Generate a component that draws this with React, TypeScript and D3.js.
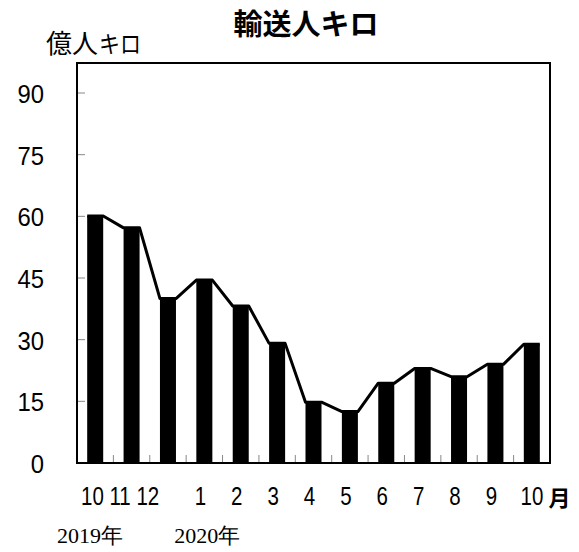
import { useEffect, useRef } from 'react';
import * as d3 from 'd3';

// months shown on the x axis, October 2019 .. October 2020
const months = ['10', '11', '12', '1', '2', '3', '4', '5', '6', '7', '8', '9', '10'];
// passenger-kilometres, 100 million (億人キロ)
const values = [60.1, 57.2, 40.0, 44.5, 38.2, 29.1, 14.8, 12.5, 19.4, 23.0, 21.0, 24.0, 28.9];
const yTicks = [0, 15, 30, 45, 60, 75, 90];
const yearLabels = ['2019年', '2020年'];

const W = 579;
const H = 552;
const margin = { top: 63, right: 29, bottom: 89, left: 77 };
const innerW = W - margin.left - margin.right;
const innerH = H - margin.top - margin.bottom;

const numFont = '"Liberation Sans", Arial, sans-serif';
const jpFont = '"Noto Sans CJK JP", sans-serif';

const App = () => {
    const svgRef = useRef<SVGSVGElement>(null);

    useEffect(() => {
        const root = d3.select(svgRef.current);
        root.selectAll('*').remove();

        const x = d3
            .scaleBand<number>()
            .domain(d3.range(months.length))
            .range([0, innerW])
            .paddingInner(0)
            .paddingOuter(0);
        const y = d3.scaleLinear().domain([0, 97.3]).range([innerH, 0]);

        const barW = x.bandwidth() * 0.44;
        const barOff = (x.bandwidth() - barW) / 2;

        // titles
        root.append('text')
            .attr('x', 306)
            .attr('y', 35)
            .attr('text-anchor', 'middle')
            .style('font-family', jpFont)
            .style('font-weight', 'bold')
            .style('font-size', '29px')
            .text('輸送人キロ');

        root.append('text')
            .attr('x', 46)
            .attr('y', 53)
            .style('font-family', jpFont)
            .style('font-size', '26px')
            .text('億人');
        root.append('text')
            .attr('x', 99)
            .attr('y', 53)
            .attr('textLength', 42)
            .attr('lengthAdjust', 'spacingAndGlyphs')
            .style('font-family', jpFont)
            .style('font-size', '24px')
            .text('キロ');

        const g = root
            .append('g')
            .attr('transform', `translate(${margin.left},${margin.top})`);

        // bars
        g.selectAll('rect.bar')
            .data(values)
            .join('rect')
            .attr('class', 'bar')
            .attr('x', (_, i) => (x(i) ?? 0) + barOff)
            .attr('y', d => y(d))
            .attr('width', barW)
            .attr('height', d => innerH - y(d))
            .attr('fill', '#000');

        // line tracing the bar tops
        const pts: [number, number][] = values.flatMap((v, i) => {
            const x0 = (x(i) ?? 0) + barOff;
            return [
                [x0, y(v)],
                [x0 + barW, y(v)],
            ] as [number, number][];
        });
        g.append('path')
            .attr('d', d3.line()(pts))
            .attr('fill', 'none')
            .attr('stroke', '#000')
            .attr('stroke-width', 3)
            .attr('stroke-linejoin', 'round');

        // y ticks (inside)
        g.selectAll('line.yt')
            .data(yTicks.filter(t => t > 0))
            .join('line')
            .attr('class', 'yt')
            .attr('x1', 0)
            .attr('x2', 8)
            .attr('y1', d => y(d))
            .attr('y2', d => y(d))
            .attr('stroke', '#888')
            .attr('stroke-width', 1);

        // x ticks at band boundaries
        g.selectAll('line.xt')
            .data(d3.range(1, months.length))
            .join('line')
            .attr('class', 'xt')
            .attr('x1', d => x(d) ?? 0)
            .attr('x2', d => x(d) ?? 0)
            .attr('y1', innerH)
            .attr('y2', innerH - 8)
            .attr('stroke', '#888')
            .attr('stroke-width', 1);

        // frame
        g.append('rect')
            .attr('width', innerW)
            .attr('height', innerH)
            .attr('fill', 'none')
            .attr('stroke', '#000')
            .attr('stroke-width', 2);

        // y labels (condensed digits)
        g.selectAll('text.yl')
            .data(yTicks)
            .join('text')
            .attr('class', 'yl')
            .attr('transform', d => `translate(-33,${y(d) + 10}) scale(0.9,1)`)
            .attr('text-anchor', 'end')
            .style('font-family', numFont)
            .style('font-size', '26.5px')
            .text(d => d);

        // x labels: first three run together, the rest under their bars
        const ly = innerH + 42;
        const sx = 0.82;
        g.append('text')
            .attr('transform', `translate(${(x(0) ?? 0) + 4},${ly}) scale(${sx},1)`)
            .style('font-family', numFont)
            .style('font-size', '25px')
            .text(months.slice(0, 3).join(' '));

        g.selectAll('text.xl')
            .data(months.slice(3, months.length - 1))
            .join('text')
            .attr('class', 'xl')
            .attr(
                'transform',
                (_, i) =>
                    `translate(${(x(i + 3) ?? 0) + x.bandwidth() / 2 - 4},${ly}) scale(${sx},1)`
            )
            .attr('text-anchor', 'middle')
            .style('font-family', numFont)
            .style('font-size', '25px')
            .text(d => d);

        const lastX = (x(months.length - 1) ?? 0) + 7;
        g.append('text')
            .attr('transform', `translate(${lastX},${ly}) scale(${sx},1)`)
            .style('font-family', numFont)
            .style('font-size', '25px')
            .text(months[months.length - 1]);
        g.append('text')
            .attr('x', lastX + 28)
            .attr('y', ly + 1)
            .style('font-family', jpFont)
            .style('font-size', '22px')
            .style('font-weight', 'bold')
            .text('月');

        // year labels under Oct 2019 and Jan 2020
        g.selectAll('text.yr')
            .data(yearLabels)
            .join('text')
            .attr('class', 'yr')
            .attr('x', (_, i) => (i === 0 ? -20 : (x(3) ?? 0) - 12))
            .attr('y', innerH + 80)
            .style('font-family', '"Liberation Serif", "DejaVu Serif", serif')
            .style('font-size', '22px')
            .text(d => d);
    }, []);

    return (
        <svg
            ref={svgRef}
            width={W}
            height={H}
            style={{ position: 'absolute', left: 0, top: 0, background: '#fff' }}
        />
    );
};

export default App;
